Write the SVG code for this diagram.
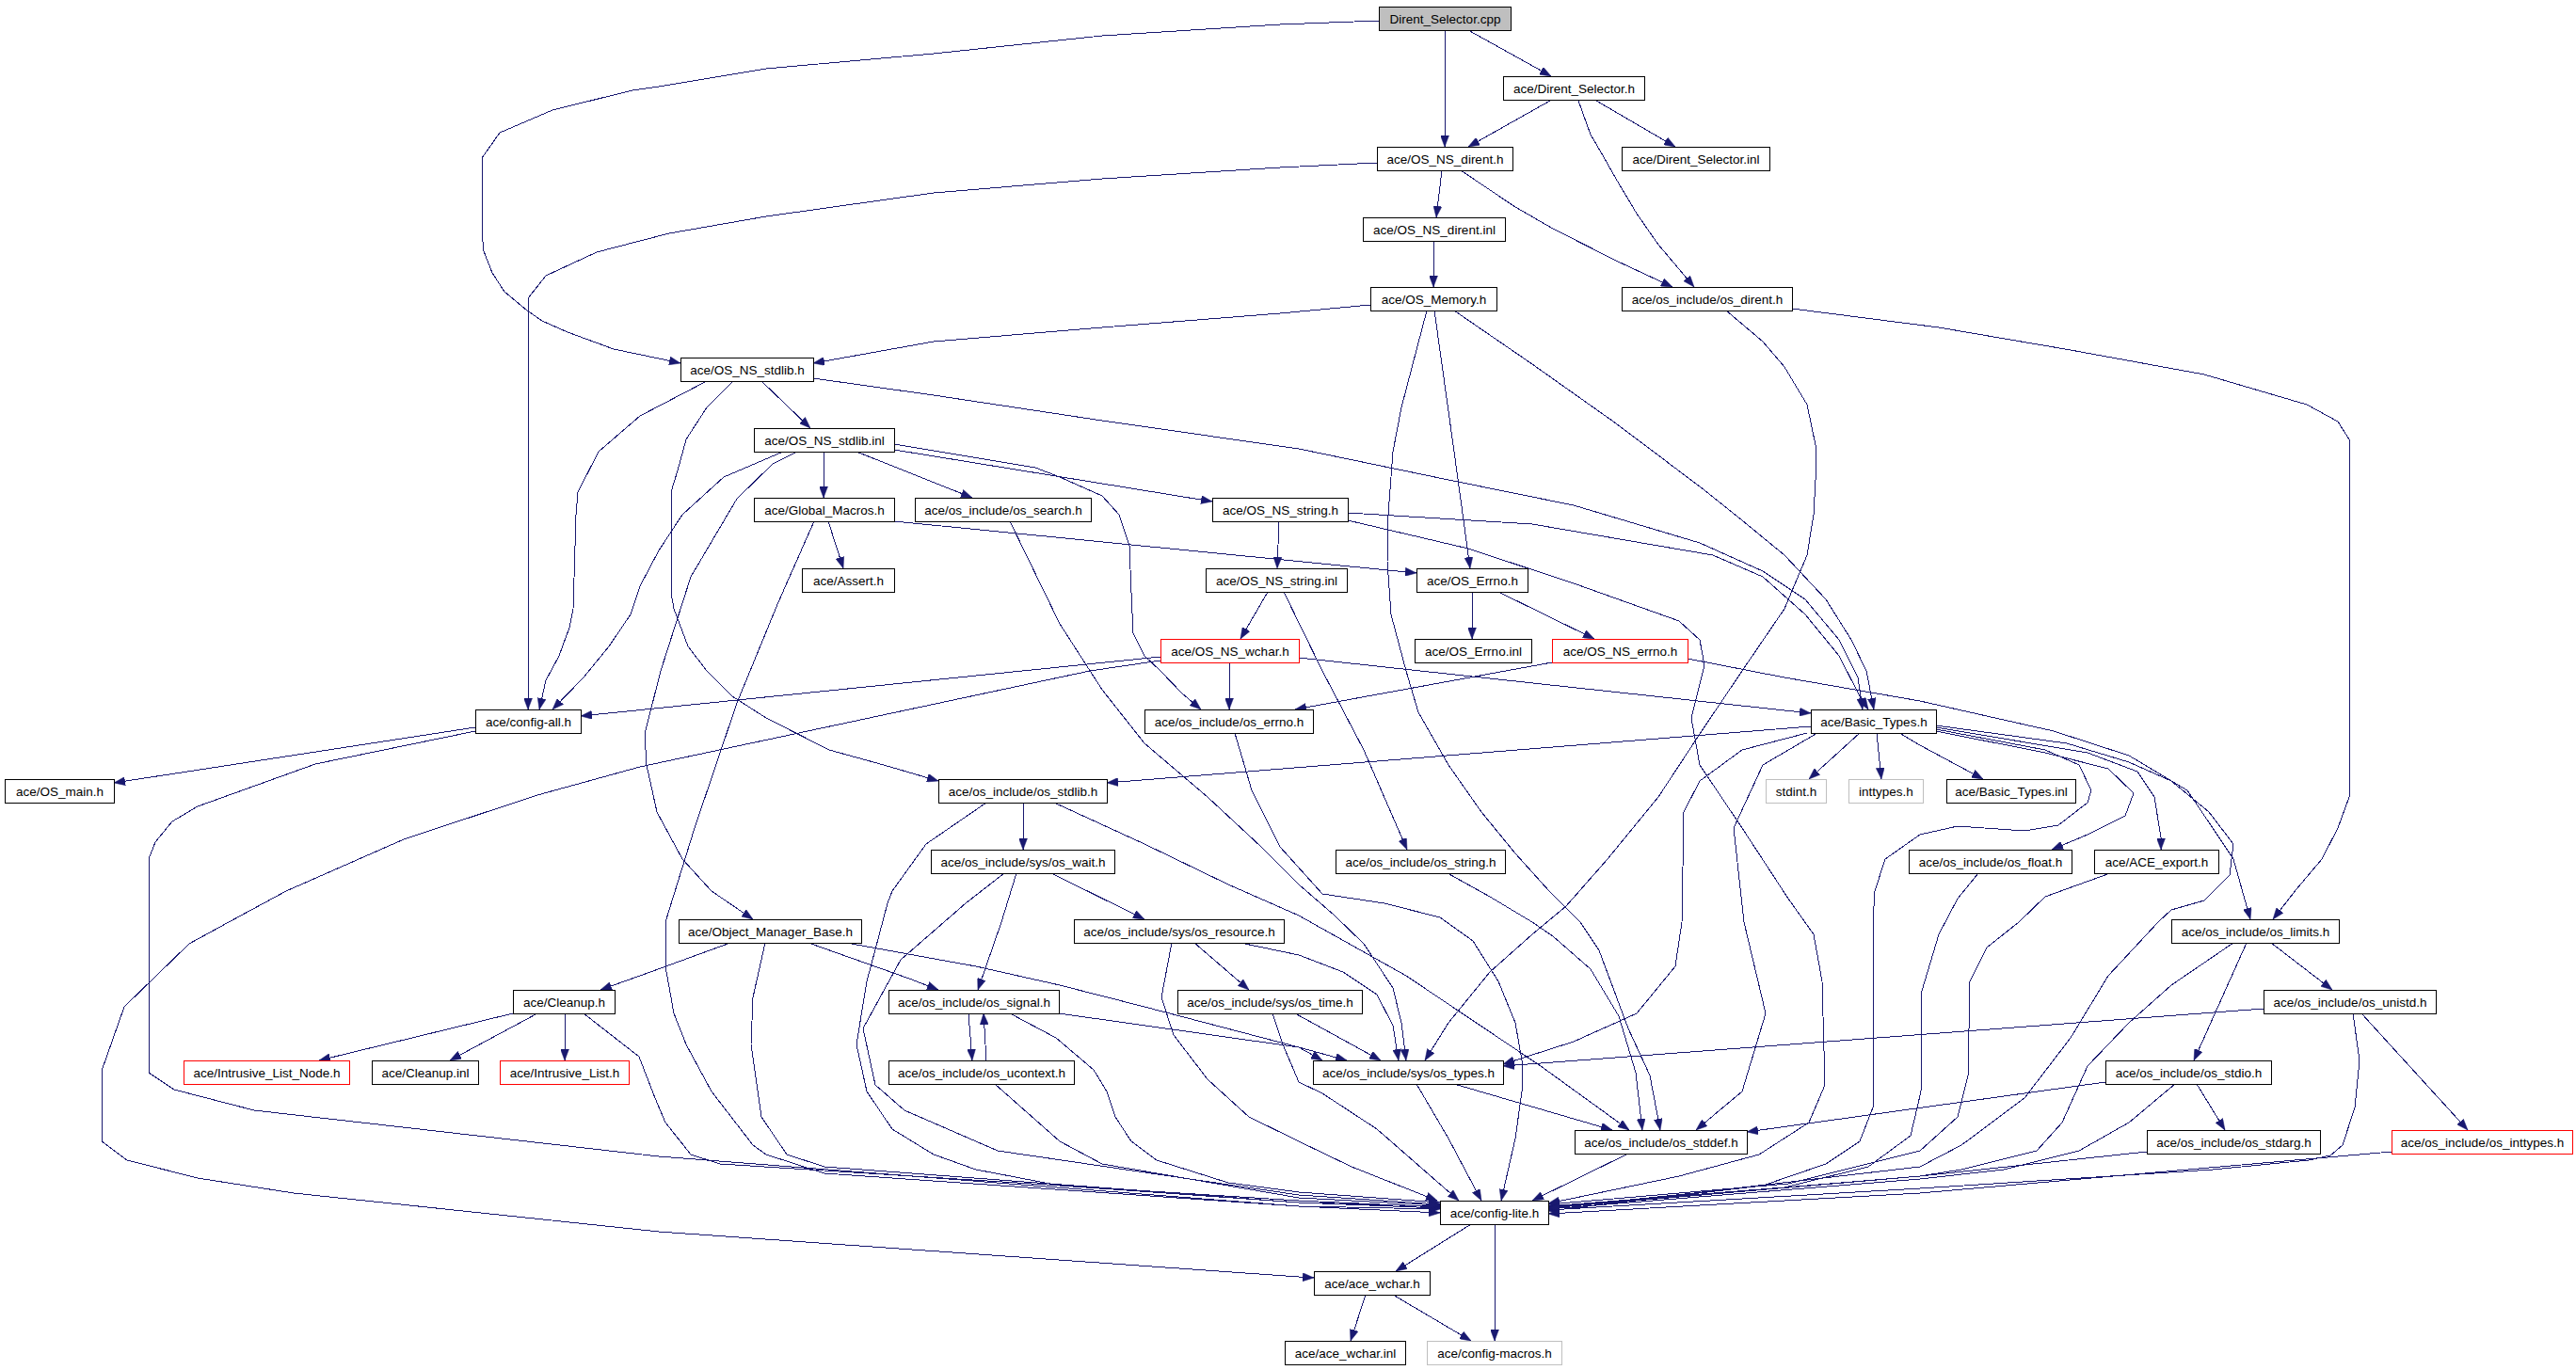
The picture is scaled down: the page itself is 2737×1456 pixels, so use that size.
<svg xmlns="http://www.w3.org/2000/svg" width="2737" height="1456" viewBox="0 0 2737 1456">
<defs>
<marker id="a" markerWidth="12" markerHeight="9" refX="12" refY="4.5" orient="auto" markerUnits="userSpaceOnUse"><path d="M0,0 L12,4.5 L0,9 z" fill="#191970" stroke="#191970" stroke-width="0.5"/></marker>
<style>
rect{fill:#fff;stroke:#000;stroke-width:1}
.r rect{stroke:#f00}
.g rect{stroke:#bfbfbf}
.c rect{fill:#bfbfbf}
text{font-family:"Liberation Sans",Arial,sans-serif;font-size:13.5px;text-anchor:middle;fill:#000}
#edges path{fill:none;stroke:#191970;stroke-width:1;stroke-linejoin:round;shape-rendering:crispEdges;marker-end:url(#a)}
</style>
</defs>
<rect x="0" y="0" width="2737" height="1456" style="fill:#fff;stroke:none"/>
<g id="edges">
<path d="M1560,32 L1648,81"/>
<path d="M1535,32 L1535,156"/>
<path d="M1465,22 L1360,26 L1171,38 L992,57 L814,73 L700,92 L672,96 L587,117 L531,141 L512,168 L512,247 L514,267 L523,290 L536,310 L560,330 L576,341 L603,353 L652,371 L700,381 L723,386"/>
<path d="M1463,173 L1360,178 L1171,190 L992,205 L814,230 L711,248 L680,256 L634,268 L580,293 L561,317 L561,754"/>
<path d="M1647,107 L1560,156"/>
<path d="M1696,107 L1780,156"/>
<path d="M1677,107 L1690,143 L1704,167 L1717,190 L1739,227 L1762,260 L1800,305"/>
<path d="M1532,181 L1526,231"/>
<path d="M1552,181 L1610,220 L1650,243 L1717,277 L1777,305"/>
<path d="M1523,256 L1523,305"/>
<path d="M1456,324 L1360,333 L1171,348 L992,363 L864,386"/>
<path d="M1524,330 L1545,480 L1562,604"/>
<path d="M1516,330 L1489,433 L1480,480 L1475,547 L1474,597 L1478,653 L1494,713 L1507,757 L1539,813 L1574,863 L1610,907 L1646,947 L1679,980 L1699,1010 L1730,1093 L1753,1143 L1764,1201"/>
<path d="M1545,330 L1628,387 L1717,450 L1770,490 L1806,517 L1851,553 L1896,590 L1940,637 L1967,680 L1983,713 L1991,754"/>
<path d="M1834,330 L1873,363 L1896,390 L1920,430 L1929,473 L1929,510 L1927,547 L1920,590 L1896,647 L1851,713 L1806,780 L1762,847 L1708,913 L1664,963 L1628,993 L1583,1033 L1539,1087 L1514,1127"/>
<path d="M1904,328 L2060,348 L2200,372 L2342,398 L2451,430 L2484,448 L2496,467 L2496,847 L2484,880 L2467,913 L2440,945 L2415,977"/>
<path d="M809,405 L861,455"/>
<path d="M751,405 L680,442 L636,480 L614,523 L612,547 L609,647 L605,667 L594,697 L580,723 L573,754"/>
<path d="M779,405 L751,433 L729,467 L720,500 L713,523 L713,630 L716,647 L731,687 L751,713 L778,740 L814,763 L881,797 L939,813 L997,830"/>
<path d="M864,402 L992,420 L1171,447 L1380,477 L1539,510 L1672,537 L1806,577 L1873,607 L1918,637 L1954,680 L1974,720 L1979,754"/>
<path d="M875,480 L875,529"/>
<path d="M910,480 L1033,529"/>
<path d="M950,478 L1288,533"/>
<path d="M950,472 L1100,497 L1126,507 L1171,527 L1189,547 L1200,580 L1202,630 L1204,673 L1216,697 L1233,713 L1256,737 L1276,754"/>
<path d="M832,480 L769,507 L725,547 L700,585 L680,623 L670,653 L647,687 L620,720 L587,754"/>
<path d="M847,480 L821,493 L783,530 L734,613 L702,713 L685,780 L687,813 L698,863 L725,913 L756,947 L800,977"/>
<path d="M880,554 L896,604"/>
<path d="M950,554 L1505,609"/>
<path d="M865,554 L827,640 L783,747 L738,880 L707,980 L707,1027 L716,1077 L729,1110 L756,1160 L800,1217 L814,1227 L876,1247 L1380,1282 L1530,1289"/>
<path d="M1073,554 L1126,663 L1171,733 L1216,790 L1283,847 L1340,900 L1380,940 L1418,973 L1449,1003 L1480,1050 L1489,1087 L1494,1127"/>
<path d="M1359,554 L1357,604"/>
<path d="M1432,545 L1628,557 L1820,590 L1873,613 L1918,653 L1954,697 L1976,740 L1985,754"/>
<path d="M1432,553 L1560,583 L1672,620 L1784,660 L1806,680 L1811,707 L1797,763 L1806,813 L1851,880 L1900,955 L1927,993 L1936,1043 L1939,1153 L1922,1193 L1869,1227 L1784,1250 L1645,1279"/>
<path d="M1347,629 L1318,679"/>
<path d="M1364,629 L1405,713 L1449,797 L1495,903"/>
<path d="M1564,629 L1564,679"/>
<path d="M1592,629 L1694,679"/>
<path d="M1233,698 L617,761"/>
<path d="M1233,702 L1158,713 L680,815 L571,845 L429,892 L304,947 L243,980 L201,1003 L132,1070 L108,1138 L108,1213 L135,1233 L210,1252 L312,1268 L700,1309 L1380,1357 L1396,1358"/>
<path d="M1306,704 L1306,754"/>
<path d="M1380,699 L1924,758"/>
<path d="M1649,704 L1376,754"/>
<path d="M1793,700 L1896,720 L2040,745 L2182,777 L2262,803 L2324,840 L2351,880 L2373,913 L2391,977"/>
<path d="M1924,772 L1176,832"/>
<path d="M1976,779 L1922,828"/>
<path d="M1994,779 L1999,828"/>
<path d="M2018,779 L2040,792 L2107,828"/>
<path d="M2057,777 L2173,800 L2240,817 L2267,843 L2258,867 L2218,887 L2180,903"/>
<path d="M2057,773 L2218,800 L2271,820 L2289,847 L2296,890 L2296,903"/>
<path d="M2057,771 L2196,790 L2262,810 L2307,830 L2347,863 L2373,897 L2369,930 L2342,957 L2307,967 L2293,980 L2240,1037 L2200,1103 L2151,1167 L2084,1217 L2040,1240 L1800,1268 L1645,1284"/>
<path d="M2057,775 L2173,797 L2209,813 L2222,840 L2218,853 L2187,877 L2151,883 L2080,878 L2040,887 L2003,913 L1992,947 L1990,980 L1990,1177 L1976,1213 L1940,1237 L1873,1260 L1645,1287"/>
<path d="M1920,779 L1851,797 L1806,830 L1789,863 L1787,980 L1780,1027 L1739,1077 L1672,1107 L1597,1131"/>
<path d="M1931,779 L1873,813 L1842,880 L1853,980 L1876,1077 L1851,1160 L1802,1201"/>
<path d="M2102,928 L2080,955 L2060,993 L2042,1053 L2041,1160 L2030,1207 L1985,1240 L1896,1262 L1645,1282"/>
<path d="M2242,928 L2173,953 L2145,980 L2111,1007 L2093,1043 L2091,1143 L2080,1187 L2040,1223 L1900,1258 L1645,1280"/>
<path d="M2373,1002 L2307,1047 L2262,1087 L2218,1133 L2191,1193 L2164,1223 L2084,1243 L2040,1250 L1645,1283"/>
<path d="M2413,1002 L2478,1052"/>
<path d="M2387,1002 L2331,1127"/>
<path d="M2405,1072 L1597,1133"/>
<path d="M2509,1077 L2622,1201"/>
<path d="M2500,1077 L2507,1127 L2502,1177 L2489,1217 L2476,1228 L2453,1233 L2351,1243 L2040,1263 L1645,1286"/>
<path d="M2237,1150 L1856,1203"/>
<path d="M2334,1152 L2364,1201"/>
<path d="M2311,1152 L2262,1193 L2209,1223 L2129,1243 L2040,1253 L1645,1285"/>
<path d="M2281,1224 L2040,1250 L1645,1284"/>
<path d="M2541,1224 L2040,1268 L1645,1290"/>
<path d="M1563,1301 L1483,1351"/>
<path d="M1588,1301 L1588,1425"/>
<path d="M1451,1376 L1435,1425"/>
<path d="M1480,1376 L1563,1425"/>
<path d="M505,773 L121,832"/>
<path d="M505,777 L335,812 L210,857 L183,873 L165,895 L158,913 L158,1140 L185,1158 L270,1180 L700,1229 L1380,1282 L1530,1285"/>
<path d="M776,1002 L680,1037 L638,1052"/>
<path d="M859,1002 L966,1040 L997,1052"/>
<path d="M899,1002 L1037,1027 L1126,1047 L1216,1070 L1380,1113 L1405,1127"/>
<path d="M813,1002 L800,1060 L798,1110 L809,1187 L836,1227 L876,1240 L1380,1278 L1530,1284"/>
<path d="M545,1077 L339,1127"/>
<path d="M571,1077 L478,1127"/>
<path d="M600,1077 L600,1127"/>
<path d="M620,1077 L679,1123 L696,1167 L707,1193 L734,1227 L765,1237 L1380,1276 L1530,1283"/>
<path d="M1087,853 L1087,903"/>
<path d="M1048,853 L984,897 L948,947 L943,960 L921,1043 L910,1110 L921,1160 L948,1200 L992,1227 L1037,1243 L1126,1260 L1380,1278 L1530,1282"/>
<path d="M1120,853 L1216,897 L1305,940 L1380,973 L1494,1037 L1637,1133 L1731,1201"/>
<path d="M1080,928 L1064,980 L1039,1052"/>
<path d="M1117,928 L1216,977"/>
<path d="M1067,928 L1026,960 L957,1020 L917,1093 L930,1153 L961,1180 L1060,1223 L1380,1270 L1530,1280"/>
<path d="M1269,1002 L1327,1052"/>
<path d="M1318,1002 L1380,1015 L1427,1033 L1463,1057 L1480,1090 L1486,1127"/>
<path d="M1245,1002 L1234,1060 L1247,1100 L1283,1147 L1327,1187 L1380,1213 L1436,1240 L1527,1276"/>
<path d="M1029,1077 L1033,1127"/>
<path d="M1048,1127 L1046,1093 L1045,1077"/>
<path d="M1125,1077 L1380,1113 L1431,1127"/>
<path d="M1073,1077 L1122,1103 L1162,1137 L1176,1160 L1185,1187 L1202,1213 L1229,1233 L1305,1257 L1380,1267 L1530,1278"/>
<path d="M1057,1152 L1126,1213 L1171,1237 L1380,1273 L1530,1281"/>
<path d="M1376,1077 L1467,1127"/>
<path d="M1352,1077 L1363,1110 L1380,1150 L1405,1162 L1463,1200 L1550,1276"/>
<path d="M1545,1152 L1713,1201"/>
<path d="M1505,1152 L1539,1210 L1574,1276"/>
<path d="M1730,1226 L1628,1276"/>
<path d="M1538,928 L1583,953 L1628,980 L1650,995 L1690,1030 L1720,1080 L1738,1140 L1745,1201"/>
<path d="M1312,779 L1330,840 L1360,900 L1405,950 L1471,960 L1530,975 L1565,1000 L1592,1043 L1610,1087 L1617,1127 L1617,1160 L1610,1210 L1595,1276"/>
</g>
<g id="n1" class="c"><rect x="1465.5" y="7.5" width="140" height="25"/><text x="1535.5" y="25">Dirent_Selector.cpp</text></g>
<g id="n2"><rect x="1597.5" y="81.5" width="150" height="25"/><text x="1672.5" y="99">ace/Dirent_Selector.h</text></g>
<g id="n3"><rect x="1463.5" y="156.5" width="144" height="25"/><text x="1535.5" y="174">ace/OS_NS_dirent.h</text></g>
<g id="n4"><rect x="1723.5" y="156.5" width="157" height="25"/><text x="1802" y="174">ace/Dirent_Selector.inl</text></g>
<g id="n5"><rect x="1448.5" y="231.5" width="151" height="25"/><text x="1524" y="249">ace/OS_NS_dirent.inl</text></g>
<g id="n6"><rect x="1456.5" y="305.5" width="134" height="25"/><text x="1523.5" y="323">ace/OS_Memory.h</text></g>
<g id="n7"><rect x="1723.5" y="305.5" width="181" height="25"/><text x="1814" y="323">ace/os_include/os_dirent.h</text></g>
<g id="n8"><rect x="723.5" y="380.5" width="141" height="25"/><text x="794" y="398">ace/OS_NS_stdlib.h</text></g>
<g id="n9"><rect x="801.5" y="455.5" width="149" height="25"/><text x="876" y="473">ace/OS_NS_stdlib.inl</text></g>
<g id="n10"><rect x="801.5" y="529.5" width="149" height="25"/><text x="876" y="547">ace/Global_Macros.h</text></g>
<g id="n11"><rect x="972.5" y="529.5" width="187" height="25"/><text x="1066" y="547">ace/os_include/os_search.h</text></g>
<g id="n12"><rect x="1288.5" y="529.5" width="144" height="25"/><text x="1360.5" y="547">ace/OS_NS_string.h</text></g>
<g id="n13"><rect x="852.5" y="604.5" width="98" height="25"/><text x="901.5" y="622">ace/Assert.h</text></g>
<g id="n14"><rect x="1281.5" y="604.5" width="150" height="25"/><text x="1356.5" y="622">ace/OS_NS_string.inl</text></g>
<g id="n15"><rect x="1505.5" y="604.5" width="118" height="25"/><text x="1564.5" y="622">ace/OS_Errno.h</text></g>
<g id="n16" class="r"><rect x="1233.5" y="679.5" width="147" height="25"/><text x="1307" y="697">ace/OS_NS_wchar.h</text></g>
<g id="n17"><rect x="1503.5" y="679.5" width="124" height="25"/><text x="1565.5" y="697">ace/OS_Errno.inl</text></g>
<g id="n18" class="r"><rect x="1649.5" y="679.5" width="144" height="25"/><text x="1721.5" y="697">ace/OS_NS_errno.h</text></g>
<g id="n19"><rect x="505.5" y="754.5" width="112" height="25"/><text x="561.5" y="772">ace/config-all.h</text></g>
<g id="n20"><rect x="1216.5" y="754.5" width="179" height="25"/><text x="1306" y="772">ace/os_include/os_errno.h</text></g>
<g id="n21"><rect x="1924.5" y="754.5" width="133" height="25"/><text x="1991" y="772">ace/Basic_Types.h</text></g>
<g id="n22"><rect x="5.5" y="828.5" width="116" height="25"/><text x="63.5" y="846">ace/OS_main.h</text></g>
<g id="n23"><rect x="997.5" y="828.5" width="179" height="25"/><text x="1087" y="846">ace/os_include/os_stdlib.h</text></g>
<g id="n24" class="g"><rect x="1876.5" y="828.5" width="64" height="25"/><text x="1908.5" y="846">stdint.h</text></g>
<g id="n25" class="g"><rect x="1964.5" y="828.5" width="79" height="25"/><text x="2004" y="846">inttypes.h</text></g>
<g id="n26"><rect x="2068.5" y="828.5" width="137" height="25"/><text x="2137" y="846">ace/Basic_Types.inl</text></g>
<g id="n27"><rect x="989.5" y="903.5" width="195" height="25"/><text x="1087" y="921">ace/os_include/sys/os_wait.h</text></g>
<g id="n28"><rect x="1419.5" y="903.5" width="180" height="25"/><text x="1509.5" y="921">ace/os_include/os_string.h</text></g>
<g id="n29"><rect x="2028.5" y="903.5" width="173" height="25"/><text x="2115" y="921">ace/os_include/os_float.h</text></g>
<g id="n30"><rect x="2225.5" y="903.5" width="132" height="25"/><text x="2291.5" y="921">ace/ACE_export.h</text></g>
<g id="n31"><rect x="721.5" y="977.5" width="194" height="25"/><text x="818.5" y="995">ace/Object_Manager_Base.h</text></g>
<g id="n32"><rect x="1141.5" y="977.5" width="223" height="25"/><text x="1253" y="995">ace/os_include/sys/os_resource.h</text></g>
<g id="n33"><rect x="2307.5" y="977.5" width="178" height="25"/><text x="2396.5" y="995">ace/os_include/os_limits.h</text></g>
<g id="n34"><rect x="545.5" y="1052.5" width="108" height="25"/><text x="599.5" y="1070">ace/Cleanup.h</text></g>
<g id="n35"><rect x="944.5" y="1052.5" width="181" height="25"/><text x="1035" y="1070">ace/os_include/os_signal.h</text></g>
<g id="n36"><rect x="1251.5" y="1052.5" width="196" height="25"/><text x="1349.5" y="1070">ace/os_include/sys/os_time.h</text></g>
<g id="n37"><rect x="2405.5" y="1052.5" width="183" height="25"/><text x="2497" y="1070">ace/os_include/os_unistd.h</text></g>
<g id="n38" class="r"><rect x="195.5" y="1127.5" width="176" height="25"/><text x="283.5" y="1145">ace/Intrusive_List_Node.h</text></g>
<g id="n39"><rect x="395.5" y="1127.5" width="113" height="25"/><text x="452" y="1145">ace/Cleanup.inl</text></g>
<g id="n40" class="r"><rect x="531.5" y="1127.5" width="137" height="25"/><text x="600" y="1145">ace/Intrusive_List.h</text></g>
<g id="n41"><rect x="944.5" y="1127.5" width="197" height="25"/><text x="1043" y="1145">ace/os_include/os_ucontext.h</text></g>
<g id="n42"><rect x="1395.5" y="1127.5" width="202" height="25"/><text x="1496.5" y="1145">ace/os_include/sys/os_types.h</text></g>
<g id="n43"><rect x="2237.5" y="1127.5" width="176" height="25"/><text x="2325.5" y="1145">ace/os_include/os_stdio.h</text></g>
<g id="n44"><rect x="1673.5" y="1201.5" width="183" height="25"/><text x="1765" y="1219">ace/os_include/os_stddef.h</text></g>
<g id="n45"><rect x="2281.5" y="1201.5" width="184" height="25"/><text x="2373.5" y="1219">ace/os_include/os_stdarg.h</text></g>
<g id="n46" class="r"><rect x="2541.5" y="1201.5" width="192" height="25"/><text x="2637.5" y="1219">ace/os_include/os_inttypes.h</text></g>
<g id="n47"><rect x="1530.5" y="1276.5" width="115" height="25"/><text x="1588" y="1294">ace/config-lite.h</text></g>
<g id="n48"><rect x="1396.5" y="1351.5" width="123" height="25"/><text x="1458" y="1369">ace/ace_wchar.h</text></g>
<g id="n49"><rect x="1365.5" y="1425.5" width="128" height="25"/><text x="1429.5" y="1443">ace/ace_wchar.inl</text></g>
<g id="n50" class="g"><rect x="1516.5" y="1425.5" width="143" height="25"/><text x="1588" y="1443">ace/config-macros.h</text></g>
</svg>
